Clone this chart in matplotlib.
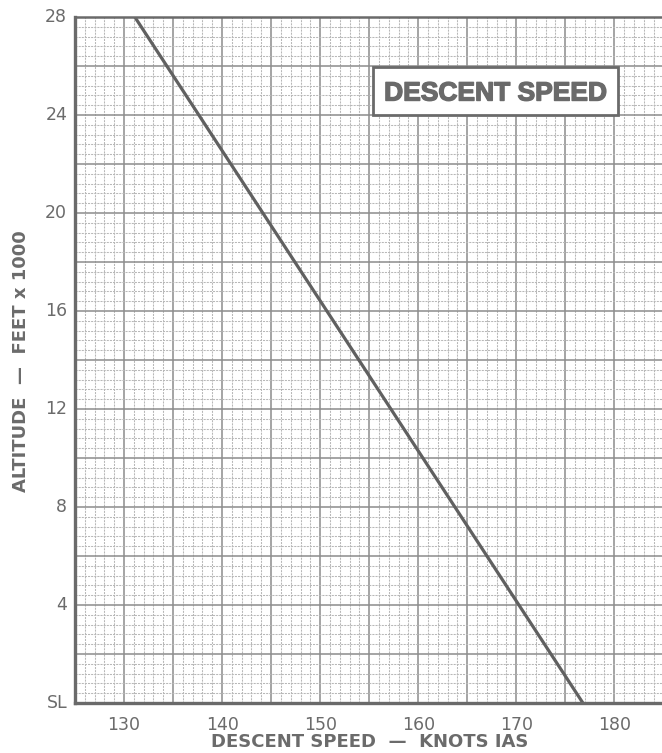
import matplotlib
matplotlib.use("Agg")
import matplotlib.pyplot as plt
import matplotlib.patheffects as pe
import numpy as np
from matplotlib.ticker import MultipleLocator
from matplotlib.patches import Rectangle

# ---- data ----
altitude_kft = [28, 0]
descent_speed_kias = [131.1, 176.8]
x_ticks = [130, 140, 150, 160, 170, 180]
y_ticks = [0, 4, 8, 12, 16, 20, 24, 28]
y_tick_labels = ["SL", "4", "8", "12", "16", "20", "24", "28"]
title_text = "DESCENT SPEED"
x_label = "DESCENT SPEED  —  KNOTS IAS"
y_label = "ALTITUDE  —  FEET x 1000"

W, H = 662, 753
fig = plt.figure(figsize=(W / 100, H / 100), dpi=100)
fig.patch.set_facecolor("white")
ax = fig.add_axes([75 / W, (H - 703) / H, 1 - 75 / W + 0.002, (703 - 17) / H])

ax.set_xlim(125, 125 + (W - 75) / 9.86)
ax.set_ylim(0, 28)

txt = "#6b6b6b"
# grid
ax.xaxis.set_minor_locator(MultipleLocator(1))
ax.yaxis.set_minor_locator(MultipleLocator(0.4))
ax.set_xticks(np.arange(125, 186, 5))
ax.set_yticks(np.arange(0, 29, 2))
ax.grid(which="minor", color="#b8b8b8", linewidth=0.75, linestyle=(0, (2, 1)))
ax.grid(which="major", color="#8c8c8c", linewidth=1.1)
ax.set_axisbelow(True)

ax.tick_params(which="both", length=0)
ax.set_xticklabels([])
ax.set_yticklabels([])

for x in x_ticks:
    ax.text(x, -0.55, str(x), ha="center", va="top", fontsize=12.5, color=txt,
            family="DejaVu Sans")
for y, lab in zip(y_ticks, y_tick_labels):
    ax.text(124.2, y, lab, ha="right", va="center", fontsize=12.5, color=txt,
            family="DejaVu Sans")

for s in ["left", "bottom", "top"]:
    ax.spines[s].set_color("#6a6a6a")
ax.spines["left"].set_linewidth(2.4)
ax.spines["bottom"].set_linewidth(2.4)
ax.spines["top"].set_linewidth(1.8)
ax.spines["right"].set_visible(False)

ax.plot(descent_speed_kias, altitude_kft, color="#606060", linewidth=2.3,
        solid_capstyle="butt", clip_on=True)

# title box (pixel placement converted to figure fraction)
bx0, bx1, by0, by1 = 373, 618, 67, 115
fig.patches.append(Rectangle((bx0 / W, 1 - by1 / H), (bx1 - bx0) / W, (by1 - by0) / H,
                             transform=fig.transFigure, facecolor="white",
                             edgecolor="#6a6a6a", linewidth=2.0, zorder=5))
fig.text((bx0 + bx1) / 2 / W, 1 - (by0 + by1) / 2 / H, title_text, ha="center",
         va="center_baseline", fontsize=19, fontweight="bold", color="#6a6a6a",
         family="Liberation Sans", zorder=6,
         path_effects=[pe.withStroke(linewidth=1.0, foreground="#6a6a6a")])

fig.text(370 / W, 1 - 742 / H, x_label, ha="center", va="center", fontsize=13,
         fontweight="bold", color=txt, family="DejaVu Sans")
fig.text(21 / W, 1 - 361 / H, y_label, ha="center", va="center", rotation=90,
         fontsize=13, fontweight="bold", color=txt, family="DejaVu Sans")

fig.savefig("out.png", dpi=100, facecolor="white")
